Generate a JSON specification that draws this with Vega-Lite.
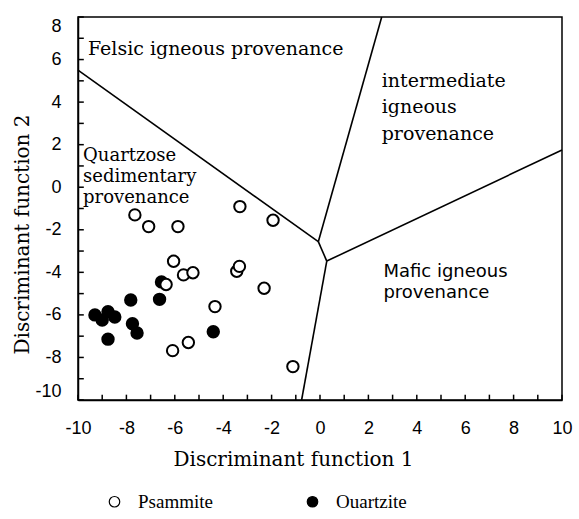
{
  "$schema": "https://vega.github.io/schema/vega-lite/v6.json",
  "width": 484,
  "height": 383,
  "autosize": "none",
  "padding": {"left": 78, "top": 17, "right": 17, "bottom": 119},
  "background": "white",
  "config": {
    "view": {"stroke": "black", "strokeWidth": 1.5},
    "axis": {
      "domainColor": "black", "domainWidth": 1.5,
      "grid": false,
      "ticks": false,
      "labelFont": "Liberation Sans", "labelFontSize": 18, "labelColor": "black",
      "titleFont": "DejaVu Serif", "titleFontSize": 20, "titleFontWeight": "normal", "titleColor": "black",
      "labelOverlap": false
    }
  },
  "datasets": {
    "samples": [
      {"type": "Ouartzite", "x": -9.3, "y": -6.0},
      {"type": "Ouartzite", "x": -9.0, "y": -6.24},
      {"type": "Ouartzite", "x": -8.76, "y": -5.85},
      {"type": "Ouartzite", "x": -8.48, "y": -6.1},
      {"type": "Ouartzite", "x": -7.82, "y": -5.3},
      {"type": "Ouartzite", "x": -6.63, "y": -5.27},
      {"type": "Ouartzite", "x": -7.75, "y": -6.42},
      {"type": "Ouartzite", "x": -7.56, "y": -6.85},
      {"type": "Ouartzite", "x": -8.76, "y": -7.14},
      {"type": "Ouartzite", "x": -4.41, "y": -6.79},
      {"type": "Ouartzite", "x": -6.55, "y": -4.45},
      {"type": "Psammite", "x": -7.65, "y": -1.3},
      {"type": "Psammite", "x": -7.08, "y": -1.85},
      {"type": "Psammite", "x": -5.87, "y": -1.85},
      {"type": "Psammite", "x": -6.05, "y": -3.48},
      {"type": "Psammite", "x": -5.64, "y": -4.12},
      {"type": "Psammite", "x": -5.25, "y": -4.02},
      {"type": "Psammite", "x": -6.36, "y": -4.57},
      {"type": "Psammite", "x": -4.34, "y": -5.61},
      {"type": "Psammite", "x": -6.09, "y": -7.68},
      {"type": "Psammite", "x": -5.44, "y": -7.3},
      {"type": "Psammite", "x": -3.31, "y": -0.91},
      {"type": "Psammite", "x": -1.94, "y": -1.55},
      {"type": "Psammite", "x": -3.44, "y": -3.95},
      {"type": "Psammite", "x": -3.33, "y": -3.72},
      {"type": "Psammite", "x": -2.31, "y": -4.75},
      {"type": "Psammite", "x": -1.12, "y": -8.43}
    ],
    "boundaries": [
      {"seg": "A", "o": 1, "x": -10, "y": 5.5},
      {"seg": "A", "o": 2, "x": -0.07, "y": -2.56},
      {"seg": "B", "o": 1, "x": 2.55, "y": 8},
      {"seg": "B", "o": 2, "x": -0.07, "y": -2.56},
      {"seg": "C", "o": 1, "x": -0.07, "y": -2.56},
      {"seg": "C", "o": 2, "x": 0.28, "y": -3.47},
      {"seg": "D", "o": 1, "x": 0.28, "y": -3.47},
      {"seg": "D", "o": 2, "x": 10, "y": 1.75},
      {"seg": "E", "o": 1, "x": 0.28, "y": -3.47},
      {"seg": "E", "o": 2, "x": -0.76, "y": -10}
    ],
    "xticks": [
      {"v": -10}, {"v": -9}, {"v": -8}, {"v": -7}, {"v": -6}, {"v": -5}, {"v": -4},
      {"v": -3}, {"v": -2}, {"v": -1}, {"v": 0}, {"v": 1}, {"v": 2}, {"v": 3},
      {"v": 4}, {"v": 5}, {"v": 6}, {"v": 7}, {"v": 8}, {"v": 9}, {"v": 10}
    ],
    "yticks": [
      {"v": -10}, {"v": -9}, {"v": -8}, {"v": -7}, {"v": -6}, {"v": -5}, {"v": -4},
      {"v": -3}, {"v": -2}, {"v": -1}, {"v": 0}, {"v": 1}, {"v": 2}, {"v": 3},
      {"v": 4}, {"v": 5}, {"v": 6}, {"v": 7}, {"v": 8}
    ],
    "fields": [
      {"label": "Felsic igneous provenance", "x": -9.59, "y": 6.21},
      {"label": "intermediate", "x": 2.55, "y": 4.72},
      {"label": "igneous", "x": 2.55, "y": 3.47},
      {"label": "provenance", "x": 2.55, "y": 2.22}
    ],
    "quartzose": [
      {"label": "Quartzose", "x": -9.79, "y": 1.25},
      {"label": "sedimentary", "x": -9.79, "y": 0.24},
      {"label": "provenance", "x": -9.79, "y": -0.76}
    ],
    "mafic": [
      {"label": "Mafic igneous", "x": 2.62, "y": -4.2},
      {"label": "provenance", "x": 2.62, "y": -5.22}
    ]
  },
  "layer": [
    {
      "data": {"name": "boundaries"},
      "mark": {"type": "line", "color": "black", "strokeWidth": 1.6},
      "encoding": {
        "x": {"field": "x", "type": "quantitative", "scale": {"domain": [-10, 10], "nice": false, "zero": false},
          "axis": {
            "title": "Discriminant function 1",
            "values": [-10,-8,-6,-4,-2,0,2,4,6,8,10],
            "labelExpr": "replace(datum.label, '−', '-')",
            "labelPadding": 19,
            "labelFlush": false,
            "titleX": 215, "titleY": 65, "titleAlign": "center", "titleBaseline": "alphabetic"
          }},
        "y": {"field": "y", "type": "quantitative", "scale": {"domain": [-10, 8], "nice": false, "zero": false},
          "axis": {
            "title": "Discriminant function 2",
            "values": [-10,-8,-6,-4,-2,0,2,4,6,8],
            "labelExpr": "replace(datum.label, '−', '-')",
            "labelPadding": 17,
            "labelFlush": true,
            "titleX": -56, "titleY": 217, "titleAngle": -90, "titleAlign": "center", "titleBaseline": "middle"
          }},
        "detail": {"field": "seg"},
        "order": {"field": "o"}
      }
    },
    {
      "data": {"name": "xticks"},
      "mark": {"type": "rule", "color": "black", "strokeWidth": 1.5},
      "encoding": {
        "x": {"field": "v", "type": "quantitative"},
        "y": {"datum": -10},
        "y2": {"datum": -9.75}
      }
    },
    {
      "data": {"name": "yticks"},
      "mark": {"type": "rule", "color": "black", "strokeWidth": 1.5},
      "encoding": {
        "y": {"field": "v", "type": "quantitative"},
        "x": {"datum": -10},
        "x2": {"datum": -9.76}
      }
    },
    {
      "data": {"name": "samples"},
      "mark": {"type": "point", "filled": true, "shape": "circle", "size": 130, "stroke": "black", "strokeWidth": 2, "opacity": 1},
      "encoding": {
        "x": {"field": "x", "type": "quantitative"},
        "y": {"field": "y", "type": "quantitative"},
        "fill": {"field": "type", "type": "nominal",
          "scale": {"domain": ["Psammite", "Ouartzite"], "range": ["white", "black"]},
          "legend": {
            "orient": "none", "legendX": 27, "legendY": 475, "direction": "horizontal",
            "title": null, "symbolType": "circle", "symbolSize": 110,
            "symbolStrokeColor": "black", "symbolStrokeWidth": 1.2,
            "labelFont": "Liberation Serif", "labelFontSize": 19, "labelColor": "black",
            "labelOffset": 14, "columnPadding": 90, "padding": 0
          }}
      }
    },
    {
      "data": {"name": "fields"},
      "mark": {"type": "text", "align": "left", "baseline": "alphabetic", "font": "DejaVu Serif", "fontSize": 19, "color": "black"},
      "encoding": {
        "x": {"field": "x", "type": "quantitative"},
        "y": {"field": "y", "type": "quantitative"},
        "text": {"field": "label"}
      }
    },
    {
      "data": {"name": "quartzose"},
      "mark": {"type": "text", "align": "left", "baseline": "alphabetic", "font": "DejaVu Serif", "fontSize": 18, "color": "black"},
      "encoding": {
        "x": {"field": "x", "type": "quantitative"},
        "y": {"field": "y", "type": "quantitative"},
        "text": {"field": "label"}
      }
    },
    {
      "data": {"name": "mafic"},
      "mark": {"type": "text", "align": "left", "baseline": "alphabetic", "font": "DejaVu Sans", "fontSize": 18, "color": "black"},
      "encoding": {
        "x": {"field": "x", "type": "quantitative"},
        "y": {"field": "y", "type": "quantitative"},
        "text": {"field": "label"}
      }
    }
  ]
}
